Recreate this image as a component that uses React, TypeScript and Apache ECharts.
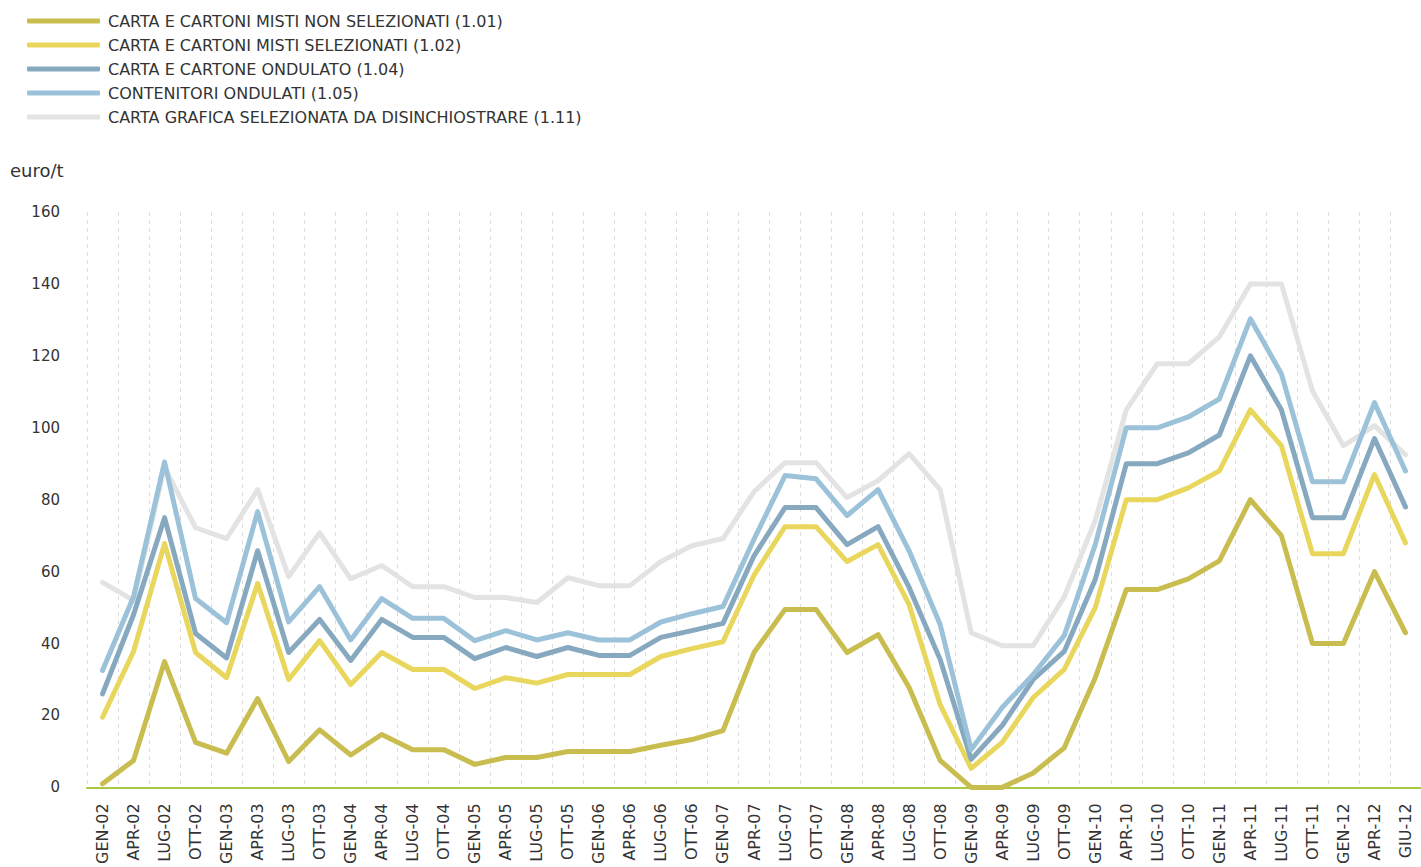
import React, { useEffect, useRef } from "react";
import * as echarts from "echarts";

const categories = [
  "GEN-02", "APR-02", "LUG-02", "OTT-02",
  "GEN-03", "APR-03", "LUG-03", "OTT-03",
  "GEN-04", "APR-04", "LUG-04", "OTT-04",
  "GEN-05", "APR-05", "LUG-05", "OTT-05",
  "GEN-06", "APR-06", "LUG-06", "OTT-06",
  "GEN-07", "APR-07", "LUG-07", "OTT-07",
  "GEN-08", "APR-08", "LUG-08", "OTT-08",
  "GEN-09", "APR-09", "LUG-09", "OTT-09",
  "GEN-10", "APR-10", "LUG-10", "OTT-10",
  "GEN-11", "APR-11", "LUG-11", "OTT-11",
  "GEN-12", "APR-12", "GIU-12",
];

const nonSelezionati = [
  1, 7.5, 35, 12.5, 9.5, 24.7, 7.2, 16, 9, 14.7, 10.5, 10.5,
  6.4, 8.3, 8.3, 10, 10, 10, 11.7, 13.3, 15.8, 37.5, 49.5, 49.5,
  37.5, 42.5, 27.8, 7.5, 0, 0, 4, 11, 30.5, 55, 55, 58,
  63, 80, 70, 40, 40, 60, 43,
];

const selezionati = [
  19.5, 37.8, 67.8, 37.5, 30.5, 56.7, 30, 40.8, 28.6, 37.5, 32.8, 32.8,
  27.5, 30.5, 29, 31.4, 31.4, 31.4, 36.4, 38.6, 40.5, 59, 72.5, 72.5,
  62.8, 67.5, 50.8, 23, 5.3, 12.5, 25, 32.8, 50, 80, 80, 83.3,
  88, 105, 95, 65, 65, 87, 68,
];

const ondulato = [
  26, 48, 75, 42.8, 36, 65.8, 37.5, 46.7, 35.3, 46.7, 41.7, 41.7,
  35.8, 38.9, 36.4, 38.9, 36.7, 36.7, 41.7, 43.6, 45.6, 64.4, 77.8, 77.8,
  67.5, 72.5, 55.6, 35.6, 7.8, 17.2, 30, 37.8, 57.8, 90, 90, 93,
  98, 120, 105, 75, 75, 97, 78,
];

const contenitori = [
  32.5, 53, 90.5, 52.5, 45.8, 76.7, 46, 55.8, 41, 52.5, 47, 47,
  40.8, 43.6, 41, 43, 41, 41, 46, 48.3, 50.3, 69, 86.7, 85.8,
  75.6, 82.8, 65.8, 45.3, 10.5, 22.2, 31.4, 42.2, 67.5, 100, 100, 103,
  108, 130.3, 115, 85, 85, 107, 88,
];

const grafica = [
  57, 52, 89, 72.2, 69.2, 82.8, 58.6, 70.8, 58, 61.7, 55.8, 55.8,
  52.8, 52.8, 51.4, 58.3, 56.1, 56.1, 62.8, 67.2, 69.2, 82.2, 90.3, 90.3,
  80.6, 85.3, 92.8, 82.8, 43, 39.4, 39.4, 53, 74.2, 105, 117.8, 117.8,
  125.3, 140, 140, 110.3, 95, 100.6, 92.5,
];

const seriesNames = [
  "CARTA E CARTONI MISTI NON SELEZIONATI (1.01)",
  "CARTA E CARTONI MISTI SELEZIONATI (1.02)",
  "CARTA E CARTONE ONDULATO (1.04)",
  "CONTENITORI ONDULATI (1.05)",
  "CARTA GRAFICA SELEZIONATA DA DISINCHIOSTRARE (1.11)",
];

const seriesColors = ["#c9bd50", "#e8d75c", "#87a9bf", "#9cc2da", "#e2e3e2"];

const yTicks = [0, 20, 40, 60, 80, 100, 120, 140, 160];

const FONT = "'DejaVu Sans', 'Open Sans', sans-serif";

export default function App() {
  const ref = useRef<HTMLDivElement>(null);

  useEffect(() => {
    if (!ref.current) return;
    const chart = echarts.init(ref.current, undefined, { renderer: "svg" });
    const data = [nonSelezionati, selezionati, ondulato, contenitori, grafica];
    // draw gray first so it sits behind others
    const order = [4, 0, 1, 2, 3];
    chart.setOption({
      animation: false,
      backgroundColor: "#ffffff",
      textStyle: { fontFamily: FONT },
      legend: {
        orient: "vertical",
        left: 27,
        top: 13,
        padding: 0,
        itemGap: 8,
        itemWidth: 73,
        itemHeight: 5,
        icon: "roundRect",
        data: seriesNames,
        textStyle: {
          fontFamily: FONT,
          fontSize: 16,
          lineHeight: 16,
          color: "#333333",
          padding: [0, 0, 0, 3],
        },
      },
      graphic: [
        {
          type: "text",
          left: 10,
          top: 161,
          style: { text: "euro/t", fontFamily: FONT, fontSize: 18, fill: "#333333" },
        },
      ],
      grid: { left: 87, right: 0, top: 212, bottom: 79, containLabel: false },
      xAxis: {
        type: "category",
        data: categories,
        boundaryGap: true,
        axisLine: { show: true, lineStyle: { color: "#a9c843", width: 2 } },
        axisTick: { show: false },
        axisLabel: {
          rotate: 90,
          interval: 0,
          margin: 16,
          fontFamily: FONT,
          fontSize: 16,
          color: "#333333",
        },
        splitLine: {
          show: true,
          interval: 0,
          lineStyle: { color: "#dddddd", type: [4, 4], width: 1 },
        },
      },
      yAxis: {
        type: "value",
        min: yTicks[0],
        max: yTicks[yTicks.length - 1],
        interval: 20,
        axisLine: { show: false },
        axisTick: { show: false },
        splitLine: { show: false },
        axisLabel: {
          margin: 27,
          fontFamily: FONT,
          fontSize: 15,
          color: "#333333",
        },
      },
      series: order.map((i) => ({
        name: seriesNames[i],
        type: "line",
        data: data[i],
        symbol: "none",
        smooth: false,
        color: seriesColors[i],
        lineStyle: { color: seriesColors[i], width: 5, cap: "round", join: "round" },
        z: i === 4 ? 1 : 2 + i,
      })),
    });
    return () => chart.dispose();
  }, []);

  return (
    <div
      ref={ref}
      style={{ position: "absolute", left: 0, top: 0, width: 1421, height: 867 }}
    />
  );
}
